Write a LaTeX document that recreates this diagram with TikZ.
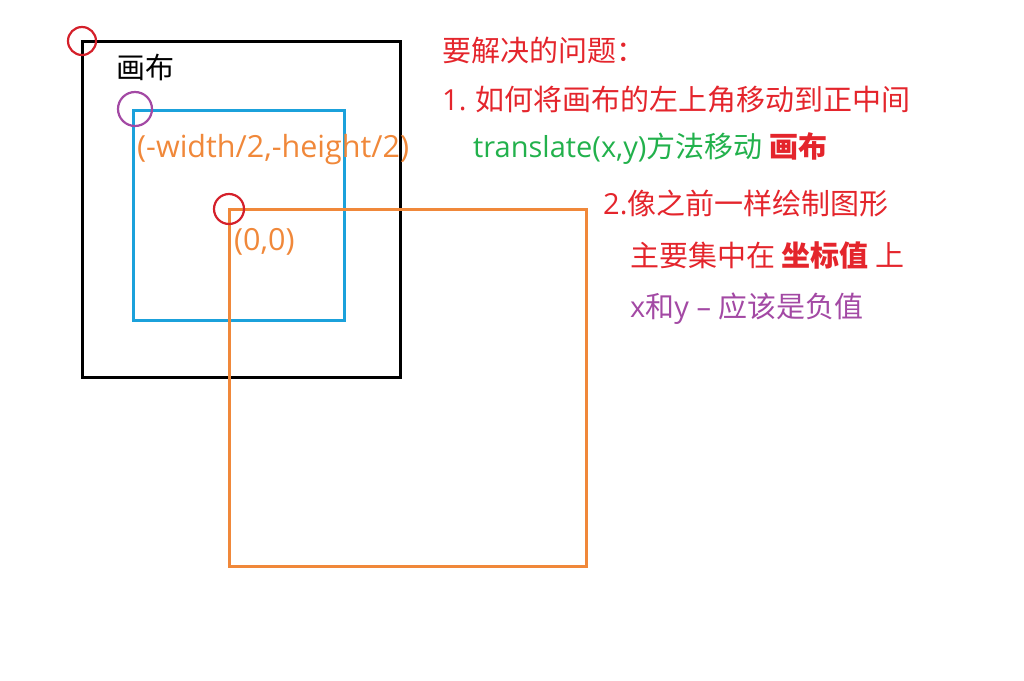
\documentclass[tikz,border=0pt]{standalone}
\usepackage{fontspec}
\setmainfont{Noto Sans CJK SC}
\newfontfamily\latinfont{Open Sans}
\usetikzlibrary{positioning, calc}
\definecolor{notered}{HTML}{E4252C}
\definecolor{ringred}{HTML}{D4202A}
\definecolor{notegreen}{HTML}{22B14C}
\definecolor{notepurple}{HTML}{A349A4}
\definecolor{moveorange}{HTML}{F0883A}
\definecolor{viewblue}{HTML}{1BA1DB}
\tikzstyle{canvasbox} = [
    draw=black,
    line width=3pt
]
\tikzstyle{viewbox} = [
    draw=viewblue,
    line width=3pt
]
\tikzstyle{shapebox} = [
    draw=moveorange,
    line width=3pt
]
\tikzstyle{ring} = [
    line width=2.2pt
]
\tikzstyle{label} = [
    anchor=base west,
    inner sep=0pt,
    font=\fontsize{29}{33}\selectfont
]
\tikzstyle{coordlabel} = [
    label,
    text=moveorange,
    font=\fontsize{30.5}{34}\selectfont\latinfont
]
\begin{document}
\begin{tikzpicture}[x=1pt, y=-1pt]
    \useasboundingbox (0,0) rectangle (1024,680);

    % Rectangles
    \coordinate (canvas_tl) at (82,41);
    \coordinate (canvas_br) at (400,377);
    \coordinate (view_tl) at (133,110);
    \coordinate (view_br) at (344,320);
    \coordinate (shape_tl) at (229,209);
    \coordinate (shape_br) at (586,566);

    \draw [canvasbox] (canvas_tl) rectangle (canvas_br);
    \draw [viewbox] (view_tl) rectangle (view_br);
    \draw [shapebox] (shape_tl) rectangle (shape_br);

    % Corner rings
    \draw [ring, ringred] (canvas_tl) circle [radius=14pt];
    \draw [ring, notepurple] ($(view_tl)+(2,-1)$) circle [radius=17pt];
    \draw [ring, ringred] (shape_tl) circle [radius=15pt];

    % Labels on the drawing
    \node (canvas_name) [label] at (116,78) {画布};
    \node (view_origin) [coordlabel] at (137,157) {(-width/2,-height/2)};
    \node (zero_origin) [coordlabel] at (234,250) {(0,0)};

    % Notes
    \node (problem) [label, text=notered] at (442,61) {要解决的问题：};
    \node (step_one) [label, text=notered] at (442,110) {{\latinfont 1.} 如何将画布的左上角移动到正中间};
    \node (step_one_how) [label, text=notegreen] at (473,157) {{\latinfont translate(x,y)}方法移动 \textcolor{notered}{\bfseries 画布}};
    \node (step_two) [label, text=notered] at (603,214) {{\latinfont 2.}像之前一样绘制图形};
    \node (step_two_how) [label, text=notered] at (630,266) {主要集中在 {\bfseries 坐标值} 上};
    \node (step_two_note) [label, text=notepurple] at (630,317) {{\latinfont x}和{\latinfont y – }应该是负值};
\end{tikzpicture}
\end{document}
